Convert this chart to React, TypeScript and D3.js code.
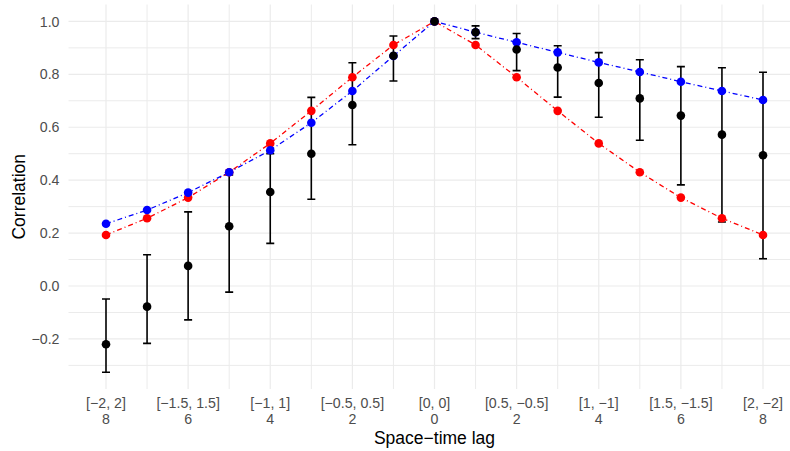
import React from "react";
import * as d3 from "d3";

const lags = [-8, -7, -6, -5, -4, -3, -2, -1, 0, 1, 2, 3, 4, 5, 6, 7, 8];
const redVals = [0.193, 0.256, 0.334, 0.43, 0.539, 0.662, 0.789, 0.911, 1.0, 0.911, 0.789, 0.662, 0.539, 0.43, 0.334, 0.256, 0.193];
const blueVals = [0.235, 0.287, 0.353, 0.43, 0.513, 0.617, 0.737, 0.869, 1.0, 0.959, 0.921, 0.883, 0.845, 0.809, 0.772, 0.737, 0.703];
const blackMean = [-0.22, -0.078, 0.076, 0.226, 0.355, 0.5, 0.684, 0.87, 1.0, 0.959, 0.894, 0.826, 0.767, 0.709, 0.644, 0.572, 0.494];
const blackLow = [-0.326, -0.217, -0.128, -0.023, 0.161, 0.328, 0.534, 0.775, 1.0, 0.935, 0.814, 0.714, 0.638, 0.551, 0.382, 0.242, 0.103];
const blackHigh = [-0.049, 0.118, 0.28, 0.42, 0.5, 0.713, 0.844, 0.945, 1.0, 0.983, 0.954, 0.908, 0.882, 0.855, 0.829, 0.825, 0.808];

const xBreaks = [-8, -6, -4, -2, 0, 2, 4, 6, 8];
const xLabelTop = ["[−2, 2]", "[−1.5, 1.5]", "[−1, 1]", "[−0.5, 0.5]", "[0, 0]", "[0.5, −0.5]", "[1, −1]", "[1.5, −1.5]", "[2, −2]"];
const xLabelBottom = ["8", "6", "4", "2", "0", "2", "4", "6", "8"];
const xMinor = [-7, -5, -3, -1, 1, 3, 5, 7];
const yBreaks = [-0.2, 0, 0.2, 0.4, 0.6, 0.8, 1.0];
const yMinor = [-0.3, -0.1, 0.1, 0.3, 0.5, 0.7, 0.9];

const W = 790;
const H = 451;
const panel = { left: 68.5, right: 800.5, top: 4.5, bottom: 389 };

export default function App() {
  const x = d3.scaleLinear().domain([-8, 8]).range([106, 763]);
  const y = d3.scaleLinear().domain([0, 1]).range([286, 21.4]);
  const font = "'Liberation Sans', Arial, Helvetica, sans-serif";
  const line = d3
    .line<number>()
    .x((_, i) => x(lags[i]))
    .y((d) => y(d));
  const dash = "5,3,1,3";
  const cap = 4;
  const r = 4.3;

  return (
    <svg width={W} height={H} style={{ position: "absolute", left: 0, top: 0, background: "#fff" }}>
      <defs>
        <clipPath id="pc">
          <rect x={panel.left} y={panel.top} width={panel.right - panel.left} height={panel.bottom - panel.top} />
        </clipPath>
      </defs>
      <g>
        {yMinor.map((v) => (
          <line key={"ym" + v} x1={panel.left} x2={panel.right} y1={y(v)} y2={y(v)} stroke="#EBEBEB" strokeWidth={1} />
        ))}
        {xMinor.map((v) => (
          <line key={"xm" + v} x1={x(v)} x2={x(v)} y1={panel.top} y2={panel.bottom} stroke="#EBEBEB" strokeWidth={1} />
        ))}
        {yBreaks.map((v) => (
          <line key={"y" + v} x1={panel.left} x2={panel.right} y1={y(v)} y2={y(v)} stroke="#EBEBEB" strokeWidth={1.2} />
        ))}
        {xBreaks.map((v) => (
          <line key={"x" + v} x1={x(v)} x2={x(v)} y1={panel.top} y2={panel.bottom} stroke="#EBEBEB" strokeWidth={1.2} />
        ))}
      </g>
      <g clipPath="url(#pc)">
        {lags.map((l, i) =>
          l === 0 ? null : (
            <g key={"eb" + l} stroke="#000" strokeWidth={1.6}>
              <line x1={x(l)} x2={x(l)} y1={y(blackLow[i])} y2={y(blackHigh[i])} />
              <line x1={x(l) - cap} x2={x(l) + cap} y1={y(blackLow[i])} y2={y(blackLow[i])} />
              <line x1={x(l) - cap} x2={x(l) + cap} y1={y(blackHigh[i])} y2={y(blackHigh[i])} />
            </g>
          )
        )}
        <path d={line(redVals) || ""} fill="none" stroke="#FF0000" strokeWidth={1.3} strokeDasharray={dash} />
        {lags.map((l, i) => (
          <circle key={"r" + l} cx={x(l)} cy={y(redVals[i])} r={r} fill="#FF0000" />
        ))}
        <path d={line(blueVals) || ""} fill="none" stroke="#0000FF" strokeWidth={1.3} strokeDasharray={dash} />
        {lags.map((l, i) => (
          <circle key={"b" + l} cx={x(l)} cy={y(blueVals[i])} r={r} fill="#0000FF" />
        ))}
        {lags.map((l, i) => (
          <circle key={"k" + l} cx={x(l)} cy={y(blackMean[i])} r={r} fill="#000" />
        ))}
      </g>
      <g fontFamily={font} fontSize={14.2} fill="#4D4D4D">
        {yBreaks.map((v) => (
          <text key={"yl" + v} x={59.5} y={y(v)} dy="0.36em" textAnchor="end">
            {v < 0 ? "−" + d3.format(".1f")(-v) : d3.format(".1f")(v)}
          </text>
        ))}
        {xBreaks.map((v, i) => (
          <g key={"xl" + v}>
            <text x={x(v)} y={408} textAnchor="middle">{xLabelTop[i]}</text>
            <text x={x(v)} y={424} textAnchor="middle">{xLabelBottom[i]}</text>
          </g>
        ))}
      </g>
      <text x={434.5} y={444} textAnchor="middle" fontFamily={font} fontSize={17.5} fill="#000">
        Space−time lag
      </text>
      <text
        transform={`translate(24.5, ${(panel.top + panel.bottom) / 2}) rotate(-90)`}
        textAnchor="middle"
        fontFamily={font}
        fontSize={17.5}
        fill="#000"
      >
        Correlation
      </text>
    </svg>
  );
}
